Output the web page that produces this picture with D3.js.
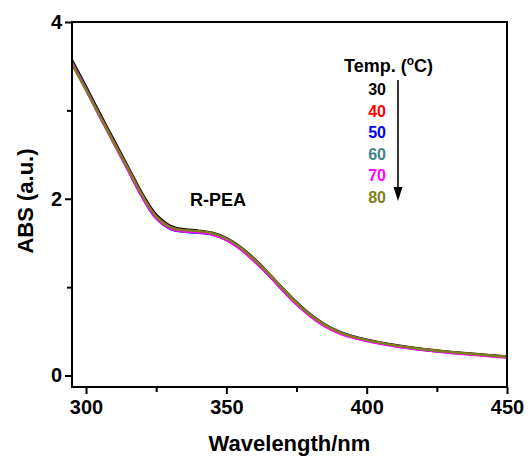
<!DOCTYPE html>
<html>
<head>
<meta charset="utf-8">
<script src="https://cdn.jsdelivr.net/npm/d3@7"></script>
<style>
  body { margin: 0; background: #fff; }
  text { font-family: "Liberation Sans", Arial, sans-serif; font-weight: bold; }
</style>
</head>
<body>
<svg id="chart" width="531" height="462"></svg>
<script>
// wavelengths (nm)
var wavelengths = [295, 300, 305, 310, 315, 320, 325, 330, 335, 340, 345, 350, 355, 360,
  365, 370, 375, 380, 385, 390, 395, 400, 410, 420, 430, 440, 450];

// absorbance per temperature
var abs30 = [3.57, 3.27, 2.96, 2.66, 2.36, 2.06, 1.82, 1.695, 1.655, 1.64, 1.615, 1.555, 1.455, 1.32,
  1.16, 0.99, 0.83, 0.69, 0.58, 0.50, 0.445, 0.405, 0.345, 0.300, 0.268, 0.240, 0.215];
var abs40 = [3.55, 3.25, 2.94, 2.64, 2.34, 2.04, 1.80, 1.68, 1.64, 1.63, 1.60, 1.54, 1.44, 1.305,
  1.145, 0.975, 0.815, 0.68, 0.57, 0.49, 0.437, 0.398, 0.338, 0.294, 0.262, 0.235, 0.210];
var abs50 = [3.54, 3.24, 2.93, 2.63, 2.33, 2.02, 1.78, 1.66, 1.625, 1.615, 1.595, 1.535, 1.435, 1.30,
  1.14, 0.97, 0.81, 0.675, 0.565, 0.487, 0.434, 0.395, 0.336, 0.292, 0.260, 0.233, 0.208];
var abs60 = [3.54, 3.24, 2.93, 2.63, 2.33, 2.03, 1.79, 1.67, 1.63, 1.62, 1.60, 1.54, 1.44, 1.30,
  1.145, 0.975, 0.815, 0.678, 0.568, 0.489, 0.436, 0.397, 0.337, 0.293, 0.261, 0.234, 0.209];
var abs70 = [3.53, 3.23, 2.92, 2.62, 2.32, 2.02, 1.78, 1.665, 1.63, 1.62, 1.595, 1.535, 1.43, 1.29,
  1.135, 0.965, 0.805, 0.668, 0.558, 0.480, 0.428, 0.390, 0.330, 0.287, 0.255, 0.229, 0.204];
var abs80 = [3.52, 3.23, 2.93, 2.63, 2.34, 2.04, 1.80, 1.68, 1.645, 1.635, 1.61, 1.55, 1.45, 1.31,
  1.155, 0.985, 0.822, 0.684, 0.574, 0.494, 0.440, 0.400, 0.341, 0.297, 0.265, 0.237, 0.212];

var temps = ["30", "40", "50", "60", "70", "80"];
var seriesValues = [abs30, abs40, abs50, abs60, abs70, abs80];
var colors = ["#000000", "#ff0000", "#0000ff", "#3f8585", "#ff00ff", "#80801a"];

var xTicks = [300, 350, 400, 450];
var xMinor = [325, 375, 425];
var yTicks = [0, 2, 4];
var yMinor = [1, 3];

var margin = { left: 72, right: 24, top: 22, bottom: 75 };
var W = 531, H = 462;

var svg = d3.select("#chart");

var x = d3.scaleLinear().domain([295, 450]).range([margin.left, W - margin.right]);
var y = d3.scaleLinear().domain([-0.13, 4]).range([H - margin.bottom, margin.top]);

// curves
var line = d3.line()
  .x(d => x(d[0]))
  .y(d => y(d[1]))
  .curve(d3.curveCatmullRom.alpha(0.5));

seriesValues.forEach(function (vals, i) {
  svg.append("path")
    .datum(wavelengths.map((w, j) => [w, vals[j]]))
    .attr("fill", "none")
    .attr("stroke", colors[i])
    .attr("stroke-width", 2.4)
    .attr("d", line);
});

// axes
svg.append("g")
  .attr("transform", "translate(0," + (H - margin.bottom) + ")")
  .call(d3.axisBottom(x).tickValues(xTicks).tickSize(7).tickPadding(6).tickFormat(d3.format("d")));
svg.append("g")
  .attr("transform", "translate(0," + (H - margin.bottom) + ")")
  .call(d3.axisBottom(x).tickValues(xMinor).tickSize(5).tickFormat(""));

svg.append("g")
  .attr("transform", "translate(" + margin.left + ",0)")
  .call(d3.axisLeft(y).tickValues(yTicks).tickSize(7).tickPadding(3).tickFormat(d3.format("d")));
svg.append("g")
  .attr("transform", "translate(" + margin.left + ",0)")
  .call(d3.axisLeft(y).tickValues(yMinor).tickSize(5).tickFormat(""));

svg.selectAll(".domain").remove();
svg.selectAll(".tick line").attr("stroke", "#000").attr("stroke-width", 2);
svg.selectAll(".tick text")
  .attr("fill", "#000")
  .style("font-size", "20px")
  .style("font-family", "'Liberation Sans', Arial, sans-serif")
  .style("font-weight", "bold");

// frame
svg.append("rect")
  .attr("x", margin.left)
  .attr("y", margin.top)
  .attr("width", W - margin.left - margin.right)
  .attr("height", H - margin.top - margin.bottom)
  .attr("fill", "none")
  .attr("stroke", "#000")
  .attr("stroke-width", 2);

// axis titles
svg.append("text")
  .attr("x", (margin.left + W - margin.right) / 2)
  .attr("y", 451)
  .attr("text-anchor", "middle")
  .style("font-size", "22px")
  .text("Wavelength/nm");

svg.append("text")
  .attr("transform", "translate(33,201) rotate(-90)")
  .attr("text-anchor", "middle")
  .style("font-size", "22px")
  .text("ABS (a.u.)");

// sample label
svg.append("text")
  .attr("x", 190)
  .attr("y", 206)
  .style("font-size", "18px")
  .text("R-PEA");

// legend
var lg = svg.append("g");
var legTitle = lg.append("text")
  .attr("x", 344)
  .attr("y", 72)
  .style("font-size", "18px");
legTitle.append("tspan").text("Temp. (");
legTitle.append("tspan").attr("dy", -7).style("font-size", "12px").text("o");
legTitle.append("tspan").attr("dy", 7).text("C)");

temps.forEach(function (t, i) {
  lg.append("text")
    .attr("x", 386)
    .attr("y", 95 + i * 21.6)
    .attr("text-anchor", "end")
    .attr("fill", colors[i])
    .style("font-size", "16px")
    .text(t);
});

// arrow
lg.append("line")
  .attr("x1", 398).attr("y1", 80)
  .attr("x2", 398).attr("y2", 190)
  .attr("stroke", "#000")
  .attr("stroke-width", 1.6);
lg.append("path")
  .attr("d", "M393.5,187 L402.5,187 L398,201 Z")
  .attr("fill", "#000");
</script>
</body>
</html>
